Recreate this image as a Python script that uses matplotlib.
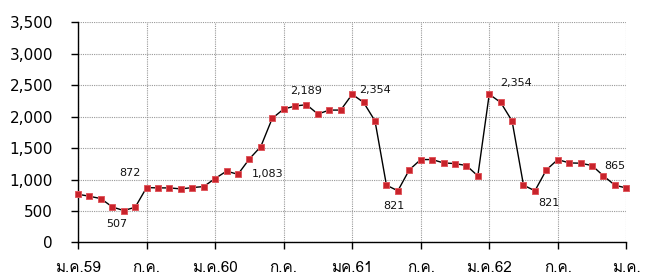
import matplotlib
matplotlib.use('Agg')
import matplotlib.pyplot as plt
from matplotlib import font_manager
from matplotlib.ft2font import FT2Font

# ค่ารายเดือน ม.ค.59 - ม.ค.63 (49 เดือน)
values = [766, 734, 697, 564, 507, 559, 872, 867, 867, 851, 872, 888,
          1016, 1133, 1083, 1327, 1523, 1971, 2119, 2167, 2189, 2040, 2103, 2103,
          2354, 2225, 1930, 910, 821, 1153, 1317, 1317, 1264, 1253, 1222, 1058,
          2354, 2225, 1930, 910, 821, 1153, 1317, 1264, 1259, 1222, 1058, 910,
          865]
months = list(range(len(values)))
tick_pos = [0, 6, 12, 18, 24, 30, 36, 42, 48]
tick_labels = ['ม.ค.59', 'ก.ค.', 'ม.ค.60', 'ก.ค.', 'มค.61', 'ก.ค.', 'ม.ค.62', 'ก.ค.', 'ม.ค.']
# ป้ายตัวเลข: (index, ข้อความ, dx, dy, ha, va)
labels = [(4, '507', -5, -6, 'center', 'top'),
          (6, '872', -12, 7, 'center', 'bottom'),
          (14, '1,083', 10, 0, 'left', 'center'),
          (20, '2,189', 0, 6, 'center', 'bottom'),
          (24, '2,354', 5, 3, 'left', 'center'),
          (28, '821', -3, -7, 'center', 'top'),
          (36, '2,354', 8, 8, 'left', 'center'),
          (40, '821', 10, -5, 'center', 'top'),
          (48, '865', -8, 12, 'center', 'bottom')]


# หา font ที่มีอักษรไทย
def find_thai_font():
    for f in font_manager.fontManager.ttflist:
        try:
            if 0x0E21 in FT2Font(f.fname).get_charmap():
                return f.name
        except Exception:
            pass
    return None


thai = find_thai_font()
fam = ['DejaVu Sans'] if thai is None else [thai, 'DejaVu Sans']
plt.rcParams['font.family'] = ['DejaVu Sans']

fig = plt.figure(figsize=(6.45, 2.8), dpi=100)
ax = fig.add_axes([0.121, 0.134, 0.850, 0.787])

ax.plot(months, values, color='black', lw=1, marker='s', markersize=4.2,
        markerfacecolor='#c8232b', markeredgecolor='#e0585e', markeredgewidth=0.7,
        clip_on=False, zorder=3)

for i, txt, dx, dy, ha, va in labels:
    ax.annotate(txt, (months[i], values[i]), xytext=(dx, dy), textcoords='offset points',
                ha=ha, va=va, fontsize=8, color='#111111')

ax.set_xlim(0, 48)
ax.set_ylim(0, 3500)
ax.set_yticks(range(0, 3501, 500))
ax.set_yticklabels(['{:,}'.format(v) for v in range(0, 3501, 500)], fontsize=11)
ax.set_xticks(tick_pos)
ax.set_xticklabels(tick_labels, fontsize=11, family=fam)
ax.tick_params(axis='x', length=5, width=1, pad=8.5, direction='out')
ax.tick_params(axis='y', length=5, width=1, pad=13, direction='out')

ax.grid(True, color='#999999', linestyle=(0, (1, 1)), lw=0.8)
ax.set_axisbelow(True)
for s in ['top', 'right']:
    ax.spines[s].set_visible(False)
ax.spines['left'].set_linewidth(1)
ax.spines['bottom'].set_linewidth(1)

fig.savefig('out.png', dpi=100)
